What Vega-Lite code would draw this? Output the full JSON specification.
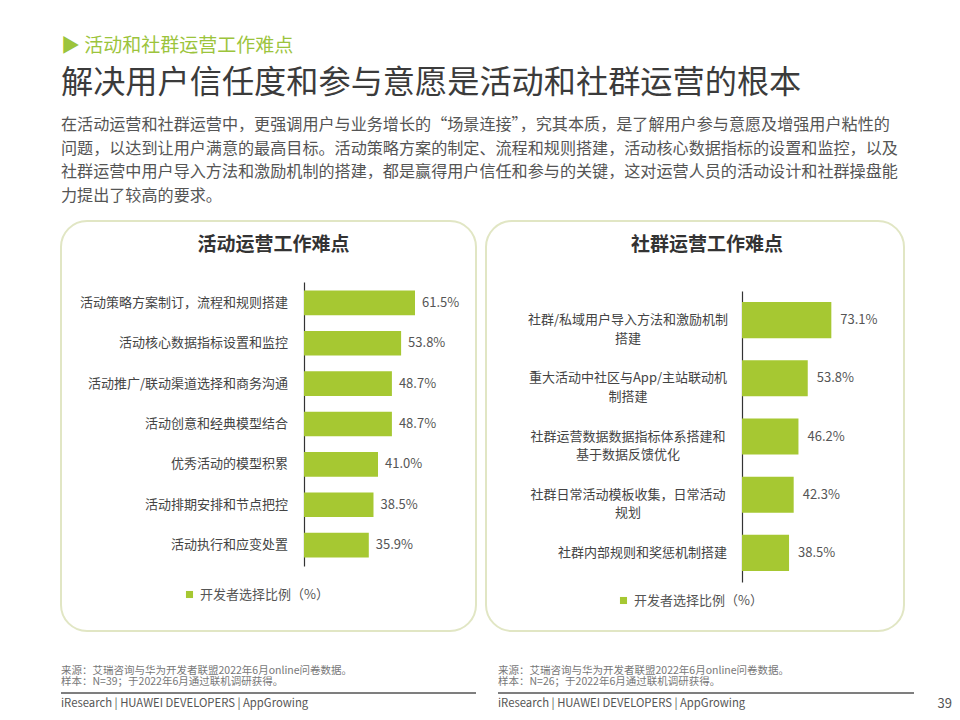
{
  "$schema": "https://vega.github.io/schema/vega-lite/v6.json",
  "background": "white",
  "padding": {"left": 60, "top": 36, "right": 0, "bottom": 0},
  "title": {
    "text": "▶ 活动和社群运营工作难点",
    "subtitle": "解决用户信任度和参与意愿是活动和社群运营的根本",
    "anchor": "start",
    "frame": "group",
    "fontSize": 19,
    "fontWeight": "normal",
    "color": "#9cc43c",
    "subtitleFontSize": 32.2,
    "subtitleColor": "#3b3b3b",
    "subtitlePadding": 12,
    "offset": 18
  },
  "spacing": 34,
  "vconcat": [
    {
      "title": {
        "text": [
          "在活动运营和社群运营中，更强调用户与业务增长的“场景连接”，究其本质，是了解用户参与意愿及增强用户粘性的",
          "问题，以达到让用户满意的最高目标。活动策略方案的制定、流程和规则搭建，活动核心数据指标的设置和监控，以及",
          "社群运营中用户导入方法和激励机制的搭建，都是赢得用户信任和参与的关键，这对运营人员的活动设计和社群操盘能",
          "力提出了较高的要求。"
        ],
        "anchor": "start",
        "frame": "group",
        "fontSize": 16.1,
        "fontWeight": "normal",
        "lineHeight": 23.6,
        "color": "#555555",
        "offset": 16
      },
      "spacing": 8,
      "resolve": {"scale": {"color": "independent"}, "legend": {"color": "independent"}},
      "hconcat": [
        {
          "width": 415,
          "height": 410,
          "view": {"stroke": "#e1e6c4", "strokeWidth": 2, "cornerRadius": 26},
          "title": {"text": "活动运营工作难点", "fontSize": 19, "fontWeight": "bold", "color": "#333333", "anchor": "middle", "offset": -34, "dx": 5},
          "data": {
            "values": [
              {"item": "活动策略方案制订，流程和规则搭建", "value": 0.615},
              {"item": "活动核心数据指标设置和监控", "value": 0.538},
              {"item": "活动推广/联动渠道选择和商务沟通", "value": 0.487},
              {"item": "活动创意和经典模型结合", "value": 0.487},
              {"item": "优秀活动的模型积累", "value": 0.41},
              {"item": "活动排期安排和节点把控", "value": 0.385},
              {"item": "活动执行和应变处置", "value": 0.359}
            ]
          },
          "encoding": {
            "y": {
              "field": "item", "type": "nominal", "sort": null,
              "scale": {"range": [61, 345], "paddingInner": 0.39, "paddingOuter": 0.21},
              "axis": {"title": null, "labels": false, "ticks": false, "tickSize": 0, "grid": false, "offset": -243, "domainColor": "#333333", "domainWidth": 1.2}
            }
          },
          "layer": [
            {
              "mark": {"type": "bar"},
              "encoding": {
                "x": {"field": "value", "type": "quantitative", "scale": {"domain": [0, 1], "range": [243, 423.5]}, "axis": null},
                "color": {
                  "datum": "开发者选择比例（%）",
                  "scale": {"range": ["#a6c832"]},
                  "legend": {"title": null, "orient": "none", "legendX": 122, "legendY": 367, "symbolType": "square", "symbolSize": 50, "labelFontSize": 13, "labelColor": "#555555", "labelOffset": 4, "padding": 0}
                }
              }
            },
            {
              "mark": {"type": "text", "align": "left", "baseline": "middle", "dx": 7, "fontSize": 13, "color": "#555555"},
              "encoding": {
                "x": {"field": "value", "type": "quantitative"},
                "text": {"field": "value", "format": ".1%"}
              }
            },
            {
              "mark": {"type": "text", "align": "right", "baseline": "middle", "dx": -16, "fontSize": 13, "color": "#444444"},
              "encoding": {
                "x": {"datum": 0, "type": "quantitative"},
                "text": {"field": "item"}
              }
            }
          ]
        },
        {
          "width": 418,
          "height": 410,
          "view": {"stroke": "#e1e6c4", "strokeWidth": 2, "cornerRadius": 26},
          "title": {"text": "社群运营工作难点", "fontSize": 19, "fontWeight": "bold", "color": "#333333", "anchor": "middle", "offset": -34, "dx": 12},
          "data": {
            "values": [
              {"item": "社群/私域用户导入方法和激励机制\n搭建", "value": 0.731},
              {"item": "重大活动中社区与App/主站联动机\n制搭建", "value": 0.538},
              {"item": "社群运营数据数据指标体系搭建和\n基于数据反馈优化", "value": 0.462},
              {"item": "社群日常活动模板收集，日常活动\n规划", "value": 0.423},
              {"item": "社群内部规则和奖惩机制搭建", "value": 0.385}
            ]
          },
          "encoding": {
            "y": {
              "field": "item", "type": "nominal", "sort": null,
              "scale": {"range": [70, 361], "paddingInner": 0.38, "paddingOuter": 0.19},
              "axis": {"title": null, "labels": false, "ticks": false, "tickSize": 0, "grid": false, "offset": -256, "domainColor": "#333333", "domainWidth": 1.2}
            }
          },
          "layer": [
            {
              "mark": {"type": "bar"},
              "encoding": {
                "x": {"field": "value", "type": "quantitative", "scale": {"domain": [0, 1], "range": [256, 378.2]}, "axis": null},
                "color": {
                  "datum": "开发者选择比例（%）",
                  "scale": {"range": ["#a6c832"]},
                  "legend": {"title": null, "orient": "none", "legendX": 131, "legendY": 373, "symbolType": "square", "symbolSize": 50, "labelFontSize": 13, "labelColor": "#555555", "labelOffset": 4, "padding": 0}
                }
              }
            },
            {
              "mark": {"type": "text", "align": "left", "baseline": "middle", "dx": 9, "fontSize": 13, "color": "#555555"},
              "encoding": {
                "x": {"field": "value", "type": "quantitative"},
                "text": {"field": "value", "format": ".1%"}
              }
            },
            {
              "transform": [{"filter": "indexof(datum.item, '\\n') >= 0"}],
              "mark": {"type": "text", "align": "center", "baseline": "middle", "dx": -114, "fontSize": 13, "color": "#444444", "lineBreak": "\n", "lineHeight": 18.5},
              "encoding": {
                "x": {"datum": 0, "type": "quantitative"},
                "text": {"field": "item"}
              }
            },
            {
              "transform": [{"filter": "indexof(datum.item, '\\n') < 0"}],
              "mark": {"type": "text", "align": "right", "baseline": "middle", "dx": -15, "fontSize": 13, "color": "#444444"},
              "encoding": {
                "x": {"datum": 0, "type": "quantitative"},
                "text": {"field": "item"}
              }
            }
          ]
        }
      ]
    },
    {
      "spacing": 20,
      "hconcat": [
        {
          "width": 415,
          "height": 22,
          "data": {
            "values": [
              {"kind": "注释", "text": "来源：艾瑞咨询与华为开发者联盟2022年6月online问卷数据。\n样本：N=39；于2022年6月通过联机调研获得。"},
              {"kind": "品牌", "text": "iResearch | HUAWEI DEVELOPERS | AppGrowing"}
            ]
          },
          "encoding": {
            "y": {"field": "kind", "type": "nominal", "scale": {"type": "point", "domain": ["注释", "线", "品牌"], "padding": 0}, "axis": null},
            "x": {"datum": 0, "type": "quantitative", "scale": {"domain": [0, 1]}, "axis": null}
          },
          "layer": [
            {
              "transform": [{"filter": "datum.kind === '注释'"}],
              "mark": {"type": "text", "align": "left", "baseline": "middle", "dy": -11, "fontSize": 10.5, "lineHeight": 10.8, "lineBreak": "\n", "color": "#777777"},
              "encoding": {"text": {"field": "text"}}
            },
            {
              "transform": [{"filter": "datum.kind === '品牌'"}],
              "mark": {"type": "text", "align": "left", "baseline": "middle", "fontSize": 11.3, "color": "#555555"},
              "encoding": {"text": {"field": "text"}}
            },
            {
              "mark": {"type": "rule", "color": "#555555", "strokeWidth": 1},
              "encoding": {
                "y": {"datum": "线", "type": "nominal"},
                "x": null
              }
            }
          ]
        },
        {
          "width": 416,
          "height": 22,
          "data": {
            "values": [
              {"kind": "注释", "text": "来源：艾瑞咨询与华为开发者联盟2022年6月online问卷数据。\n样本：N=26；于2022年6月通过联机调研获得。"},
              {"kind": "品牌", "text": "iResearch | HUAWEI DEVELOPERS | AppGrowing"}
            ]
          },
          "encoding": {
            "y": {"field": "kind", "type": "nominal", "scale": {"type": "point", "domain": ["注释", "线", "品牌"], "padding": 0}, "axis": null},
            "x": {"datum": 0, "type": "quantitative", "scale": {"domain": [0, 1]}, "axis": null}
          },
          "layer": [
            {
              "transform": [{"filter": "datum.kind === '注释'"}],
              "mark": {"type": "text", "align": "left", "baseline": "middle", "dy": -11, "fontSize": 10.5, "lineHeight": 10.8, "lineBreak": "\n", "color": "#777777"},
              "encoding": {"text": {"field": "text"}}
            },
            {
              "transform": [{"filter": "datum.kind === '品牌'"}],
              "mark": {"type": "text", "align": "left", "baseline": "middle", "fontSize": 11.3, "color": "#555555"},
              "encoding": {"text": {"field": "text"}}
            },
            {
              "mark": {"type": "rule", "color": "#555555", "strokeWidth": 1},
              "encoding": {
                "y": {"datum": "线", "type": "nominal"},
                "x": null
              }
            }
          ]
        },
        {
          "width": 17,
          "height": 22,
          "data": {"values": [{"kind": "品牌", "page": "39"}]},
          "mark": {"type": "text", "align": "right", "baseline": "middle", "fontSize": 13, "color": "#555555"},
          "encoding": {
            "y": {"field": "kind", "type": "nominal", "scale": {"type": "point", "domain": ["注释", "线", "品牌"], "padding": 0}, "axis": null},
            "x": {"datum": 1, "type": "quantitative", "scale": {"domain": [0, 1]}, "axis": null},
            "text": {"field": "page"}
          }
        }
      ]
    }
  ],
  "config": {
    "font": "Noto Sans CJK SC",
    "view": {"stroke": null},
    "axis": {"grid": false}
  }
}
